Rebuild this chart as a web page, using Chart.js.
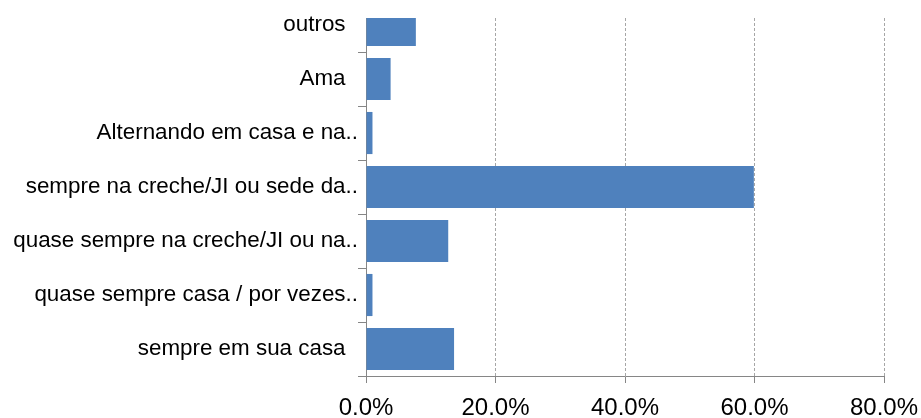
<!DOCTYPE html>
<html>
<head>
<meta charset="utf-8">
<title>Onde fica a criança</title>
<script src="https://cdn.jsdelivr.net/npm/chart.js@4"></script>
<style>
  html, body { margin: 0; padding: 0; background: #fff; }
  #wrap { width: 921px; height: 418px; }
</style>
</head>
<body>
<div id="wrap"><canvas id="my-chart" width="921" height="418"></canvas></div>
<script>
'use strict';

// ******* DATA (bottom to top, like Excel) *******
let categories = [
  'sempre em sua casa',
  'quase sempre casa / por vezes..',
  'quase sempre na creche/JI ou na..',
  'sempre na creche/JI ou sede da..',
  'Alternando em casa e na..',
  'Ama',
  'outros'
];
let percentValues = [13.6, 1.0, 12.7, 59.9, 1.0, 3.8, 7.7];
let xTicks = [0, 20, 40, 60, 80];

// ******* STYLE *******
let barBlue = '#4f81bd';
let axisGrey = '#868686';
let gridGrey = '#a6a6a6';
let fontFamily = '"Liberation Sans", Arial, sans-serif';

// ******* BUILD POINTS (y = category index on a linear axis) *******
let points = [];
for (let i = 0; i < percentValues.length; i++) {
  points.push({ x: percentValues[i], y: i });
}
let catIndex = categories.map((c, i) => i);

let ctx = document.getElementById('my-chart');

new Chart(ctx, { //eslint-disable-line
  type: 'bar',
  data: {
    datasets: [{
      data: points,
      backgroundColor: barBlue,
      borderWidth: 0,
      barPercentage: 1,
      categoryPercentage: 0.78
    }]
  },
  options: {
    indexAxis: 'y',
    responsive: false,
    animation: false,
    devicePixelRatio: 1,
    layout: { padding: { top: 18, right: 37, left: 0, bottom: 0 } },
    plugins: {
      legend: { display: false },
      tooltip: { enabled: false }
    },
    scales: {
      x: {
        type: 'linear',
        min: 0,
        max: 80,
        afterBuildTicks: (scale) => { scale.ticks = xTicks.map(v => ({ value: v })); },
        afterFit: (scale) => {
          scale.height = 42;
          scale.paddingLeft = 0;
          scale.paddingRight = 0;
        },
        grid: {
          color: (c) => (c.tick && c.tick.value === 0 ? 'rgba(0,0,0,0)' : gridGrey),
          tickColor: axisGrey,
          tickLength: 7,
          tickBorderDash: []
        },
        border: { display: true, color: axisGrey, dash: [3, 2] },
        ticks: {
          color: '#000',
          padding: 11,
          font: { family: fontFamily, size: 24 },
          callback: (v) => v.toFixed(1) + '%'
        }
      },
      y: {
        type: 'linear',
        offset: false,
        min: -0.5,
        max: 6.13,
        afterBuildTicks: (scale) => { scale.ticks = catIndex.map(v => ({ value: v })); },
        afterFit: (scale) => {
          scale.width = 366;
          scale.paddingTop = 0;
          scale.paddingBottom = 0;
        },
        grid: {
          offset: true,
          drawOnChartArea: false,
          drawTicks: true,
          tickLength: 8,
          tickColor: axisGrey,
          color: axisGrey
        },
        border: { display: true, color: axisGrey },
        ticks: {
          autoSkip: false,
          color: '#000',
          padding: 0,
          font: { family: fontFamily, size: 22.4 },
          callback: (v) => {
            let label = categories[v];
            return label.endsWith('..') ? label : label + '\u00a0\u00a0';
          }
        }
      }
    }
  }
});
</script>
</body>
</html>
